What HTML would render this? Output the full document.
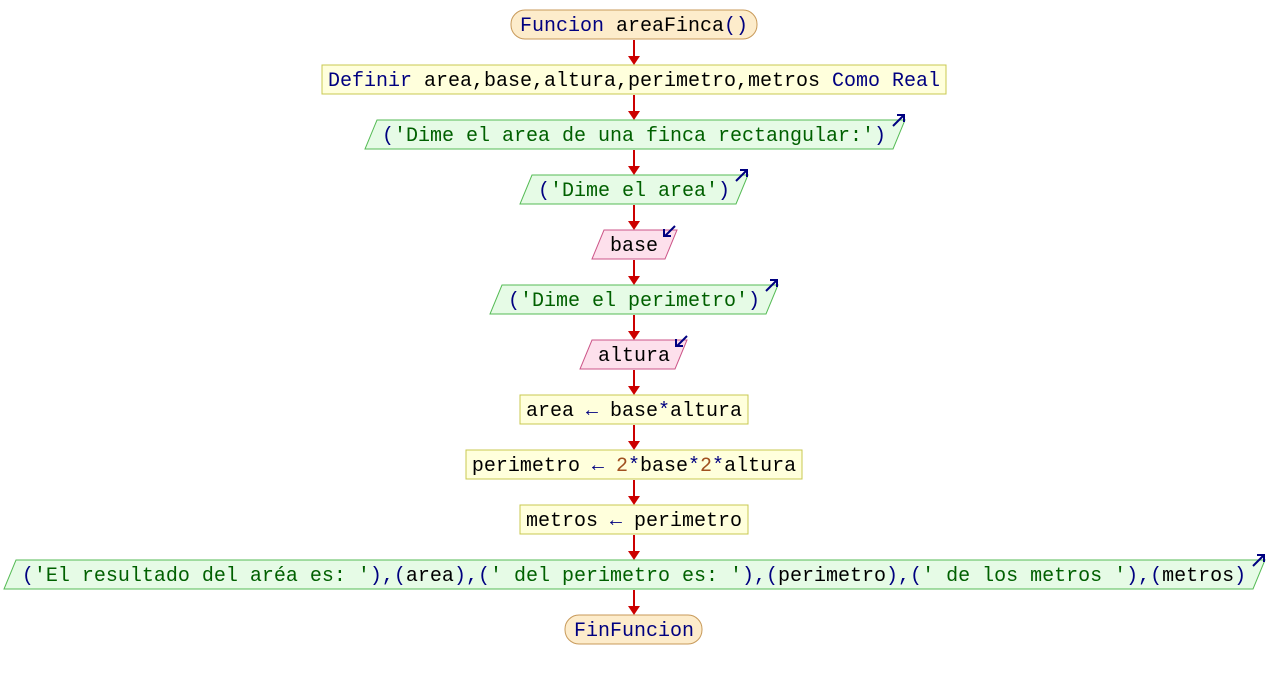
<!DOCTYPE html>
<html><head><meta charset="utf-8"><style>
html,body{margin:0;padding:0;background:#fff}
svg text{font-family:"Liberation Mono",monospace;font-size:20px}
.k{fill:#000080}.s{fill:#006000}.v{fill:#000}.n{fill:#a05020}
</style></head><body>
<svg width="1268" height="680" viewBox="0 0 1268 680" xmlns="http://www.w3.org/2000/svg">
<g stroke="#cc0000" stroke-width="2">
<line x1="634" y1="40" x2="634" y2="58"/>
<line x1="634" y1="95" x2="634" y2="113"/>
<line x1="634" y1="150" x2="634" y2="168"/>
<line x1="634" y1="205" x2="634" y2="223"/>
<line x1="634" y1="260" x2="634" y2="278"/>
<line x1="634" y1="315" x2="634" y2="333"/>
<line x1="634" y1="370" x2="634" y2="388"/>
<line x1="634" y1="425" x2="634" y2="443"/>
<line x1="634" y1="480" x2="634" y2="498"/>
<line x1="634" y1="535" x2="634" y2="553"/>
<line x1="634" y1="590" x2="634" y2="608"/>
</g>
<g fill="#cc0000">
<polygon points="628,56 640,56 634,65"/>
<polygon points="628,111 640,111 634,120"/>
<polygon points="628,166 640,166 634,175"/>
<polygon points="628,221 640,221 634,230"/>
<polygon points="628,276 640,276 634,285"/>
<polygon points="628,331 640,331 634,340"/>
<polygon points="628,386 640,386 634,395"/>
<polygon points="628,441 640,441 634,450"/>
<polygon points="628,496 640,496 634,505"/>
<polygon points="628,551 640,551 634,560"/>
<polygon points="628,606 640,606 634,615"/>
</g>
<rect x="511" y="10" width="246" height="29" rx="14" fill="#fdeccb" stroke="#c89a5a"/>
<rect x="565" y="615" width="137" height="29" rx="14" fill="#fdeccb" stroke="#c89a5a"/>
<g fill="#ffffdc" stroke="#c8c850">
<rect x="322" y="65" width="624" height="29"/>
<rect x="520" y="395" width="228" height="29"/>
<rect x="466" y="450" width="336" height="29"/>
<rect x="520" y="505" width="228" height="29"/>
</g>
<g fill="#e6fbe6" stroke="#55bb55">
<polygon points="377,120 905,120 893,149 365,149"/>
<polygon points="532,175 748,175 736,204 520,204"/>
<polygon points="502,285 778,285 766,314 490,314"/>
<polygon points="16,560 1265,560 1253,589 4,589"/>
</g>
<g fill="#fde0ec" stroke="#cc5588">
<polygon points="604,230 677,230 665,259 592,259"/>
<polygon points="592,340 687,340 675,369 580,369"/>
</g>
<g stroke="#000080" stroke-width="2" fill="none">
<path d="M893,126 L903,116 M897,115 L904,115 L904,122"/>
<path d="M736,181 L746,171 M740,170 L747,170 L747,177"/>
<path d="M766,291 L776,281 M770,280 L777,280 L777,287"/>
<path d="M1253,566 L1263,556 M1257,555 L1264,555 L1264,562"/>
<path d="M675,226 L665,236 M664,229 L664,236 L671,236"/>
<path d="M687,336 L677,346 M676,339 L676,346 L683,346"/>
</g>
<g text-anchor="middle">
<text x="634" y="31"><tspan class="k">Funcion </tspan><tspan class="v">areaFinca</tspan><tspan class="k">()</tspan></text>
<text x="634" y="86"><tspan class="k">Definir </tspan><tspan class="v">area,base,altura,perimetro,metros </tspan><tspan class="k">Como Real</tspan></text>
<text x="634" y="141"><tspan class="k">(</tspan><tspan class="s">'Dime el area de una finca rectangular:'</tspan><tspan class="k">)</tspan></text>
<text x="634" y="196"><tspan class="k">(</tspan><tspan class="s">'Dime el area'</tspan><tspan class="k">)</tspan></text>
<text x="634" y="251" class="v">base</text>
<text x="634" y="306"><tspan class="k">(</tspan><tspan class="s">'Dime el perimetro'</tspan><tspan class="k">)</tspan></text>
<text x="634" y="361" class="v">altura</text>
<text x="634" y="416"><tspan class="v">area </tspan><tspan class="k">←</tspan><tspan class="v"> base</tspan><tspan class="k">*</tspan><tspan class="v">altura</tspan></text>
<text x="634" y="471"><tspan class="v">perimetro </tspan><tspan class="k">←</tspan><tspan class="n"> 2</tspan><tspan class="k">*</tspan><tspan class="v">base</tspan><tspan class="k">*</tspan><tspan class="n">2</tspan><tspan class="k">*</tspan><tspan class="v">altura</tspan></text>
<text x="634" y="526"><tspan class="v">metros </tspan><tspan class="k">←</tspan><tspan class="v"> perimetro</tspan></text>
<text x="634" y="581"><tspan class="k">(</tspan><tspan class="s">'El resultado del aréa es: '</tspan><tspan class="k">),(</tspan><tspan class="v">area</tspan><tspan class="k">),(</tspan><tspan class="s">' del perimetro es: '</tspan><tspan class="k">),(</tspan><tspan class="v">perimetro</tspan><tspan class="k">),(</tspan><tspan class="s">' de los metros '</tspan><tspan class="k">),(</tspan><tspan class="v">metros</tspan><tspan class="k">)</tspan></text>
<text x="634" y="636" class="k">FinFuncion</text>
</g>
</svg>
</body></html>
